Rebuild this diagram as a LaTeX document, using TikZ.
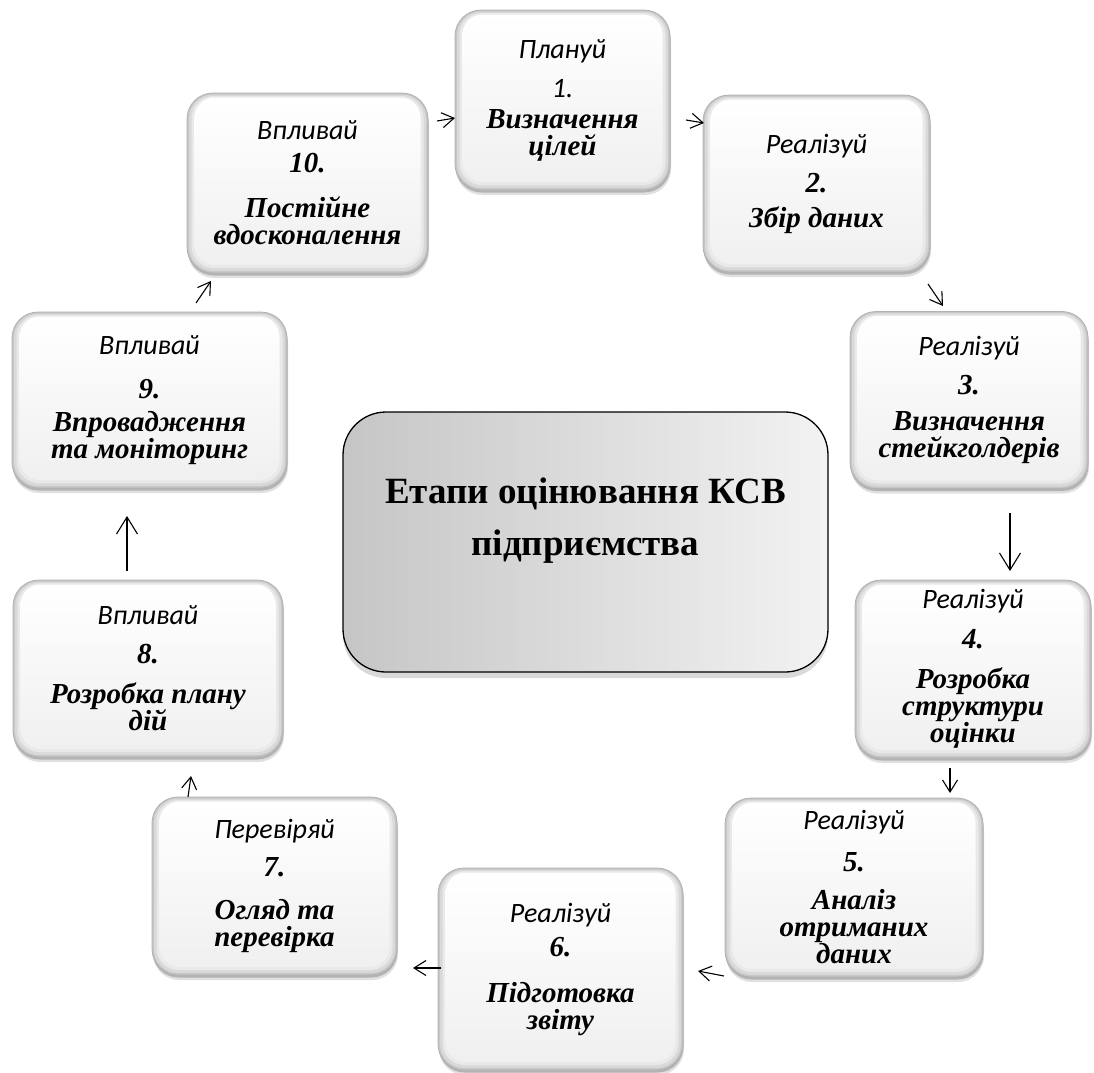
\documentclass[tikz,border=0pt]{standalone}
\usepackage{fontspec}
\setmainfont{Liberation Serif}
\newfontfamily\carl{Carlito}
\usetikzlibrary{arrows.meta,shadows}
\newcommand\lbl{\carl\mdseries\itshape\fontsize{28}{27}\selectfont}
\newcommand\nm{\rmfamily\bfseries\itshape\fontsize{29}{27}\selectfont}
\setlength\lineskiplimit{-100pt}
\tikzset{
  stepbox/.style={rectangle, rounded corners=26pt, draw=gray!60, line width=0.8pt,
    inner sep=0pt, align=center,
    font=\rmfamily\bfseries\itshape\fontsize{29}{27}\selectfont,
    drop shadow={shadow xshift=1pt, shadow yshift=-5pt, fill=black, opacity=0.12},
    drop shadow={shadow xshift=0.5pt, shadow yshift=-2.5pt, fill=black, opacity=0.2},
    path picture={
      \fill[gray!45] (path picture bounding box.south west) rectangle (path picture bounding box.north east);
      \fill[gray!30, rounded corners=24pt] ([shift={(2pt,2pt)}]path picture bounding box.south west) rectangle ([shift={(-2pt,-1.5pt)}]path picture bounding box.north east);
      \fill[gray!17, rounded corners=22pt] ([shift={(4.5pt,5pt)}]path picture bounding box.south west) rectangle ([shift={(-4.5pt,-3pt)}]path picture bounding box.north east);
      \shade[top color=white, bottom color=gray!12, rounded corners=20pt] ([shift={(7.5pt,8pt)}]path picture bounding box.south west) rectangle ([shift={(-7.5pt,-4.5pt)}]path picture bounding box.north east);
    }},
  centerbox/.style={rectangle, rounded corners=43pt, draw=black, line width=1.3pt,
    left color=gray!45, right color=gray!10, inner sep=0pt,
    drop shadow={shadow xshift=0pt, shadow yshift=-6pt, fill=black, opacity=0.15}},
  centertext/.style={align=center, font=\bfseries\fontsize{37}{52}\selectfont},
  arr/.style={line width=1.1pt, -{Straight Barb[length=12pt,width=15pt,line width=1.1pt]}},
  arrbig/.style={line width=1.1pt, -{Straight Barb[length=17pt,width=21pt,line width=1.1pt]}}
}
\begin{document}
\begin{tikzpicture}[x=1pt,y=-1pt]
\useasboundingbox (0,0) rectangle (1094,1072);
\fill[white] (0,0) rectangle (1094,1072);

% central box
\node[centerbox, minimum width=485pt, minimum height=260pt] (c) at (585.5,542) {};
\node[centertext] (ct) at (585.5,521) {Етапи оцінювання КСВ\\підприємства};

% step boxes
\node[stepbox, minimum width=215pt, minimum height=180pt] (b1) at (562.5,100)
  {{\lbl Плануй}\\[12pt]{\lbl 1.}\\[4pt]Визначення\\цілей};
\node[stepbox, minimum width=227pt, minimum height=177pt] (b2) at (816.5,183.5)
  {{\lbl Реалізуй}\\[12pt]{\nm 2.}\\[8pt]Збір даних};
\node[stepbox, minimum width=238pt, minimum height=177pt] (b3) at (969,400)
  {{\lbl Реалізуй}\\[12pt]{\nm 3.}\\[9pt]Визначення\\стейкголдерів};
\node[stepbox, minimum width=236pt, minimum height=178pt] (b4) at (973,669)
  {{\lbl Реалізуй}\\[13pt]{\nm 4.}\\[13pt]Розробка\\структури\\оцінки};
\node[stepbox, minimum width=258pt, minimum height=179pt] (b5) at (854,887.5)
  {{\lbl Реалізуй}\\[15pt]{\nm 5.}\\[11pt]Аналіз\\отриманих\\даних};
\node[stepbox, minimum width=245pt, minimum height=202pt] (b6) at (560.5,969)
  {{\lbl Реалізуй}\\[7pt]{\nm 6.}\\[19pt]Підготовка\\звіту};
\node[stepbox, minimum width=245pt, minimum height=178pt] (b7) at (274.5,886)
  {{\lbl Перевіряй}\\[11pt]{\nm 7.}\\[16pt]Огляд та\\перевірка};
\node[stepbox, minimum width=270pt, minimum height=177pt] (b8) at (148,668.5)
  {{\lbl Впливай}\\[12pt]{\nm 8.}\\[13pt]Розробка плану\\дій};
\node[stepbox, minimum width=275pt, minimum height=176pt] (b9) at (149.5,400)
  {{\lbl Впливай}\\[17pt]{\nm 9.}\\[6pt]Впровадження\\та моніторинг};
\node[stepbox, minimum width=241pt, minimum height=180pt] (b10) at (307.5,183)
  {{\lbl Впливай}\\[6pt]{\nm 10.}\\[18pt]Постійне\\вдосконалення};

% arrow end points
\coordinate (a1s) at (437,121);  \coordinate (a1e) at (455,118);
\coordinate (a2s) at (686,120);  \coordinate (a2e) at (704,123);
\coordinate (a3s) at (928,284);  \coordinate (a3e) at (943,306);
\coordinate (a4s) at (1010,513); \coordinate (a4e) at (1010,571);
\coordinate (a5s) at (950,768);  \coordinate (a5e) at (950,793);
\coordinate (a6s) at (724,976);  \coordinate (a6e) at (698,971);
\coordinate (a7s) at (441,968);  \coordinate (a7e) at (413,968);
\coordinate (a8s) at (188,797);  \coordinate (a8e) at (191,776);
\coordinate (a9s) at (127,571);  \coordinate (a9e) at (127,516);
\coordinate (a10s) at (196,303); \coordinate (a10e) at (211,281);

\draw[arr] (a1s) -- (a1e);
\draw[arr] (a2s) -- (a2e);
\draw[arr] (a3s) -- (a3e);
\draw[arrbig] (a4s) -- (a4e);
\draw[arr] (a5s) -- (a5e);
\draw[arr] (a6s) -- (a6e);
\draw[arr] (a7s) -- (a7e);
\draw[arr] (a8s) -- (a8e);
\draw[arrbig] (a9s) -- (a9e);
\draw[arr] (a10s) -- (a10e);
\end{tikzpicture}
\end{document}
